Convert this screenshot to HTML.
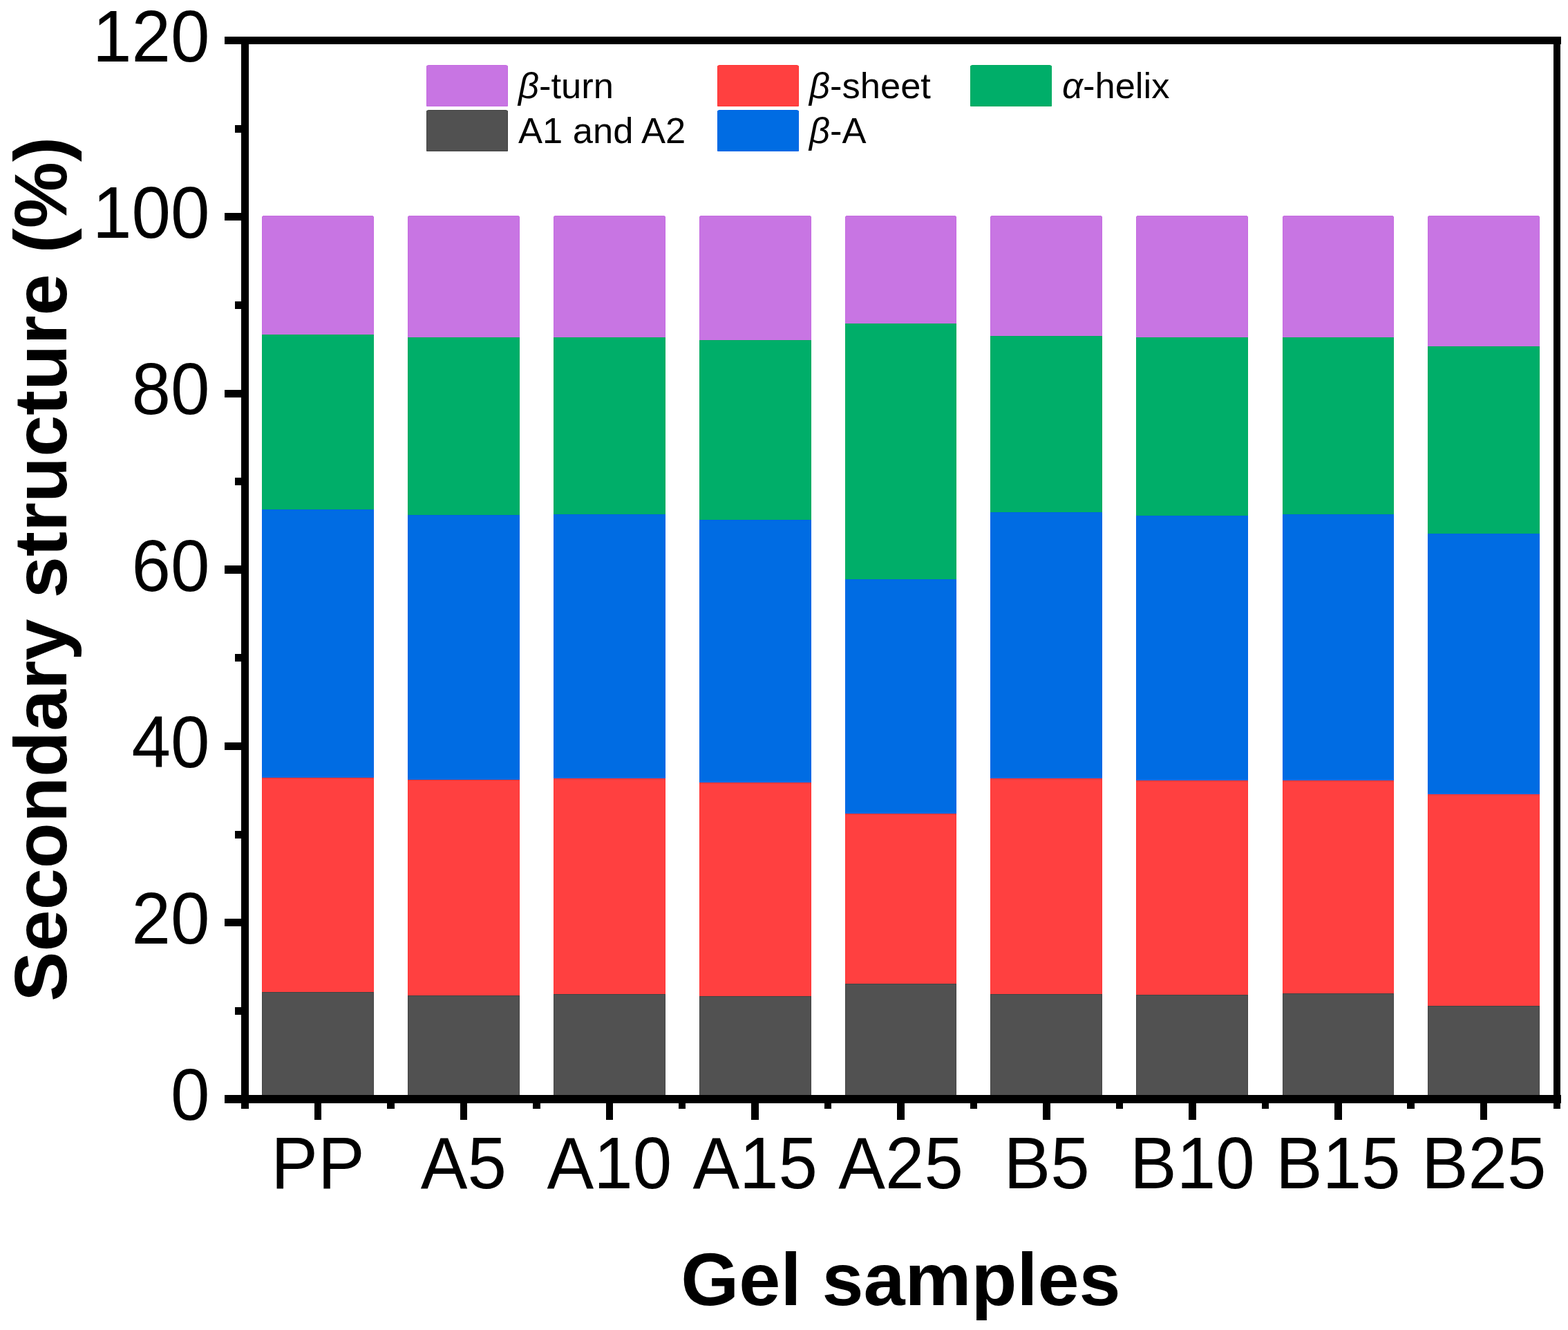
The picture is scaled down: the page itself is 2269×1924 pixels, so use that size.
<!DOCTYPE html>
<html><head><meta charset="utf-8"><title>Secondary structure</title>
<style>
html,body{margin:0;padding:0;background:#fff;}
body{width:2269px;height:1924px;overflow:hidden;}
svg{display:block;}
text{font-family:"Liberation Sans",Arial,sans-serif;fill:#000;}
.tl{font-size:101.5px;}
.at{font-size:108px;font-weight:bold;}
.lg{font-size:52.5px;}
</style></head>
<body>
<svg width="2269" height="1924" viewBox="0 0 2269 1924">
<rect width="2269" height="1924" fill="#fff"/>
<g>
<path d="M379.5,313.5 L380.5,312.5 L539.5,312.5 L540.5,313.5 L540.5,484.5 L379.5,484.5 Z" fill="#C875E3" stroke="#C46AE0" stroke-width="1"/>
<rect x="379.5" y="484.5" width="161" height="253" fill="#00AE69" stroke="#00AA5E" stroke-width="1"/>
<rect x="379.5" y="737.5" width="161" height="388" fill="#006CE3" stroke="#0063E6" stroke-width="1"/>
<rect x="379.5" y="1125.5" width="161" height="310" fill="#FF4040" stroke="#FF3434" stroke-width="1"/>
<rect x="379.5" y="1435.5" width="161" height="149" fill="#515151" stroke="#434343" stroke-width="1"/>
<path d="M590.5,313.5 L591.5,312.5 L750.5,312.5 L751.5,313.5 L751.5,488.5 L590.5,488.5 Z" fill="#C875E3" stroke="#C46AE0" stroke-width="1"/>
<rect x="590.5" y="488.5" width="161" height="257" fill="#00AE69" stroke="#00AA5E" stroke-width="1"/>
<rect x="590.5" y="745.5" width="161" height="383" fill="#006CE3" stroke="#0063E6" stroke-width="1"/>
<rect x="590.5" y="1128.5" width="161" height="312" fill="#FF4040" stroke="#FF3434" stroke-width="1"/>
<rect x="590.5" y="1440.5" width="161" height="144" fill="#515151" stroke="#434343" stroke-width="1"/>
<path d="M801.5,313.5 L802.5,312.5 L961.5,312.5 L962.5,313.5 L962.5,488.5 L801.5,488.5 Z" fill="#C875E3" stroke="#C46AE0" stroke-width="1"/>
<rect x="801.5" y="488.5" width="161" height="256" fill="#00AE69" stroke="#00AA5E" stroke-width="1"/>
<rect x="801.5" y="744.5" width="161" height="382" fill="#006CE3" stroke="#0063E6" stroke-width="1"/>
<rect x="801.5" y="1126.5" width="161" height="312" fill="#FF4040" stroke="#FF3434" stroke-width="1"/>
<rect x="801.5" y="1438.5" width="161" height="146" fill="#515151" stroke="#434343" stroke-width="1"/>
<path d="M1012.5,313.5 L1013.5,312.5 L1172.5,312.5 L1173.5,313.5 L1173.5,492.5 L1012.5,492.5 Z" fill="#C875E3" stroke="#C46AE0" stroke-width="1"/>
<rect x="1012.5" y="492.5" width="161" height="260" fill="#00AE69" stroke="#00AA5E" stroke-width="1"/>
<rect x="1012.5" y="752.5" width="161" height="380" fill="#006CE3" stroke="#0063E6" stroke-width="1"/>
<rect x="1012.5" y="1132.5" width="161" height="309" fill="#FF4040" stroke="#FF3434" stroke-width="1"/>
<rect x="1012.5" y="1441.5" width="161" height="143" fill="#515151" stroke="#434343" stroke-width="1"/>
<path d="M1223.5,313.5 L1224.5,312.5 L1382.5,312.5 L1383.5,313.5 L1383.5,468.5 L1223.5,468.5 Z" fill="#C875E3" stroke="#C46AE0" stroke-width="1"/>
<rect x="1223.5" y="468.5" width="160" height="370" fill="#00AE69" stroke="#00AA5E" stroke-width="1"/>
<rect x="1223.5" y="838.5" width="160" height="339" fill="#006CE3" stroke="#0063E6" stroke-width="1"/>
<rect x="1223.5" y="1177.5" width="160" height="246" fill="#FF4040" stroke="#FF3434" stroke-width="1"/>
<rect x="1223.5" y="1423.5" width="160" height="161" fill="#515151" stroke="#434343" stroke-width="1"/>
<path d="M1433.5,313.5 L1434.5,312.5 L1593.5,312.5 L1594.5,313.5 L1594.5,486.5 L1433.5,486.5 Z" fill="#C875E3" stroke="#C46AE0" stroke-width="1"/>
<rect x="1433.5" y="486.5" width="161" height="255" fill="#00AE69" stroke="#00AA5E" stroke-width="1"/>
<rect x="1433.5" y="741.5" width="161" height="385" fill="#006CE3" stroke="#0063E6" stroke-width="1"/>
<rect x="1433.5" y="1126.5" width="161" height="312" fill="#FF4040" stroke="#FF3434" stroke-width="1"/>
<rect x="1433.5" y="1438.5" width="161" height="146" fill="#515151" stroke="#434343" stroke-width="1"/>
<path d="M1644.5,313.5 L1645.5,312.5 L1804.5,312.5 L1805.5,313.5 L1805.5,488.5 L1644.5,488.5 Z" fill="#C875E3" stroke="#C46AE0" stroke-width="1"/>
<rect x="1644.5" y="488.5" width="161" height="258" fill="#00AE69" stroke="#00AA5E" stroke-width="1"/>
<rect x="1644.5" y="746.5" width="161" height="383" fill="#006CE3" stroke="#0063E6" stroke-width="1"/>
<rect x="1644.5" y="1129.5" width="161" height="310" fill="#FF4040" stroke="#FF3434" stroke-width="1"/>
<rect x="1644.5" y="1439.5" width="161" height="145" fill="#515151" stroke="#434343" stroke-width="1"/>
<path d="M1856.5,313.5 L1857.5,312.5 L2015.5,312.5 L2016.5,313.5 L2016.5,488.5 L1856.5,488.5 Z" fill="#C875E3" stroke="#C46AE0" stroke-width="1"/>
<rect x="1856.5" y="488.5" width="160" height="256" fill="#00AE69" stroke="#00AA5E" stroke-width="1"/>
<rect x="1856.5" y="744.5" width="160" height="385" fill="#006CE3" stroke="#0063E6" stroke-width="1"/>
<rect x="1856.5" y="1129.5" width="160" height="308" fill="#FF4040" stroke="#FF3434" stroke-width="1"/>
<rect x="1856.5" y="1437.5" width="160" height="147" fill="#515151" stroke="#434343" stroke-width="1"/>
<path d="M2066.5,313.5 L2067.5,312.5 L2226.5,312.5 L2227.5,313.5 L2227.5,501.5 L2066.5,501.5 Z" fill="#C875E3" stroke="#C46AE0" stroke-width="1"/>
<rect x="2066.5" y="501.5" width="161" height="271" fill="#00AE69" stroke="#00AA5E" stroke-width="1"/>
<rect x="2066.5" y="772.5" width="161" height="377" fill="#006CE3" stroke="#0063E6" stroke-width="1"/>
<rect x="2066.5" y="1149.5" width="161" height="306" fill="#FF4040" stroke="#FF3434" stroke-width="1"/>
<rect x="2066.5" y="1455.5" width="161" height="129" fill="#515151" stroke="#434343" stroke-width="1"/>
</g>
<path d="M617.5,95.5 L619.5,94.5 L732.5,94.5 L734.5,95.5 L734.5,153.5 L617.5,153.5 Z" fill="#C875E3" stroke="#C46AE0" stroke-width="1"/>
<text x="750" y="142" class="lg"><tspan font-style="italic">β</tspan>-turn</text>
<path d="M1038.5,95.5 L1040.5,94.5 L1153.5,94.5 L1155.5,95.5 L1155.5,153.5 L1038.5,153.5 Z" fill="#FF4040" stroke="#FF3434" stroke-width="1"/>
<text x="1171" y="142" class="lg"><tspan font-style="italic">β</tspan>-sheet</text>
<path d="M1404.5,95.5 L1406.5,94.5 L1519.5,94.5 L1521.5,95.5 L1521.5,153.5 L1404.5,153.5 Z" fill="#00AE69" stroke="#00AA5E" stroke-width="1"/>
<text x="1537" y="142" class="lg"><tspan font-style="italic">α</tspan>-helix</text>
<path d="M617.5,160.5 L619.5,159.5 L732.5,159.5 L734.5,160.5 L734.5,218.5 L617.5,218.5 Z" fill="#515151" stroke="#434343" stroke-width="1"/>
<text x="750" y="207" class="lg">A1 and A2</text>
<path d="M1038.5,160.5 L1040.5,159.5 L1153.5,159.5 L1155.5,160.5 L1155.5,218.5 L1038.5,218.5 Z" fill="#006CE3" stroke="#0063E6" stroke-width="1"/>
<text x="1171" y="207" class="lg"><tspan font-style="italic">β</tspan>-A</text>
<g>
<rect x="349" y="53" width="11" height="1551" fill="#000"/>
<rect x="2248" y="53" width="10" height="1551" fill="#000"/>
<rect x="325" y="53" width="1934" height="11" fill="#000"/>
<rect x="325" y="1584" width="1934" height="12" fill="#000"/>
<rect x="325" y="1329" width="25" height="11" fill="#000"/>
<rect x="325" y="1074" width="25" height="11" fill="#000"/>
<rect x="325" y="818" width="25" height="12" fill="#000"/>
<rect x="325" y="564" width="25" height="11" fill="#000"/>
<rect x="325" y="308" width="25" height="11" fill="#000"/>
<rect x="340" y="1457" width="10" height="11" fill="#000"/>
<rect x="340" y="1202" width="10" height="11" fill="#000"/>
<rect x="340" y="946" width="10" height="11" fill="#000"/>
<rect x="340" y="691" width="10" height="11" fill="#000"/>
<rect x="340" y="436" width="10" height="11" fill="#000"/>
<rect x="340" y="181" width="10" height="11" fill="#000"/>
<rect x="455" y="1596" width="10" height="24" fill="#000"/>
<rect x="666" y="1596" width="10" height="24" fill="#000"/>
<rect x="877" y="1596" width="10" height="24" fill="#000"/>
<rect x="1087" y="1596" width="11" height="24" fill="#000"/>
<rect x="1298" y="1596" width="11" height="24" fill="#000"/>
<rect x="1509" y="1596" width="11" height="24" fill="#000"/>
<rect x="1720" y="1596" width="11" height="24" fill="#000"/>
<rect x="1931" y="1596" width="11" height="24" fill="#000"/>
<rect x="2142" y="1596" width="10" height="24" fill="#000"/>
<rect x="560" y="1596" width="11" height="8" fill="#000"/>
<rect x="771" y="1596" width="11" height="8" fill="#000"/>
<rect x="982" y="1596" width="10" height="8" fill="#000"/>
<rect x="1193" y="1596" width="10" height="8" fill="#000"/>
<rect x="1404" y="1596" width="10" height="8" fill="#000"/>
<rect x="1615" y="1596" width="10" height="8" fill="#000"/>
<rect x="1826" y="1596" width="10" height="8" fill="#000"/>
<rect x="2036" y="1596" width="11" height="8" fill="#000"/>
</g>
<text transform="translate(303.4,1620.4) scale(1,1.04)" class="tl" text-anchor="end">0</text>
<text transform="translate(303.4,1365.15) scale(1,1.04)" class="tl" text-anchor="end">20</text>
<text transform="translate(303.4,1109.9) scale(1,1.04)" class="tl" text-anchor="end">40</text>
<text transform="translate(303.4,854.65) scale(1,1.04)" class="tl" text-anchor="end">60</text>
<text transform="translate(303.4,599.4) scale(1,1.04)" class="tl" text-anchor="end">80</text>
<text transform="translate(303.4,344.15) scale(1,1.04)" class="tl" text-anchor="end">100</text>
<text transform="translate(303.4,88.9) scale(1,1.04)" class="tl" text-anchor="end">120</text>
<text transform="translate(460,1719.3) scale(1,1.04)" class="tl" text-anchor="middle">PP</text>
<text transform="translate(670.9,1719.3) scale(1,1.04)" class="tl" text-anchor="middle">A5</text>
<text transform="translate(881.8,1719.3) scale(1,1.04)" class="tl" text-anchor="middle">A10</text>
<text transform="translate(1092.7,1719.3) scale(1,1.04)" class="tl" text-anchor="middle">A15</text>
<text transform="translate(1303.6,1719.3) scale(1,1.04)" class="tl" text-anchor="middle">A25</text>
<text transform="translate(1514.5,1719.3) scale(1,1.04)" class="tl" text-anchor="middle">B5</text>
<text transform="translate(1725.4,1719.3) scale(1,1.04)" class="tl" text-anchor="middle">B10</text>
<text transform="translate(1936.3,1719.3) scale(1,1.04)" class="tl" text-anchor="middle">B15</text>
<text transform="translate(2147.2,1719.3) scale(1,1.04)" class="tl" text-anchor="middle">B25</text>
<text x="1303.5" y="1888" class="at" text-anchor="middle">Gel samples</text>
<text transform="translate(95.5,823.3) rotate(-90)" x="0" y="0" class="at" style="font-size:108.23px" text-anchor="middle">Secondary structure (%)</text>
</svg>
</body></html>
